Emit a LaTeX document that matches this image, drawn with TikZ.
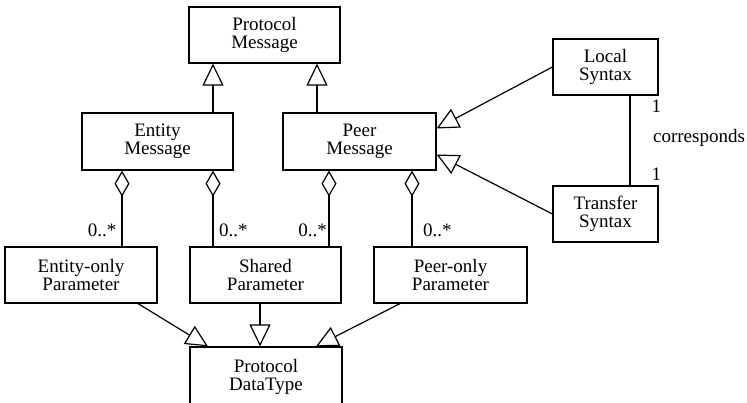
\documentclass[tikz,border=0pt]{standalone}
\usepackage{fontspec}
\setmainfont{Liberation Serif}
\newfontfamily\umlfont{Liberation Serif}
\usetikzlibrary{arrows.meta}

\begin{document}
\begin{tikzpicture}[x=1pt,y=-1pt,
  line width=1.2pt,
  cls/.style={draw, line width=1.2pt, align=center, inner sep=0pt,
    font=\umlfont\fontsize{19}{17.5}\selectfont},
  txt/.style={inner sep=0pt, font=\umlfont\fontsize{19}{17.5}\selectfont},
  inh/.style={-{Triangle[open,length=22pt,width=21pt,line width=1.2pt]}},
  agg/.style={-{Diamond[open,length=26pt,width=15pt,line width=1.2pt]}},
  assoc/.style={-}]
\useasboundingbox (0,0) rectangle (747,402);

% classes
\node[cls, minimum width=151pt, minimum height=56pt] (pm)   at (264.5,35)   {Protocol\\Message};
\node[cls, minimum width=151pt, minimum height=57pt] (em)   at (157.5,141.5) {Entity\\Message};
\node[cls, minimum width=153pt, minimum height=57pt] (peer) at (359.5,141.5) {Peer\\Message};
\node[cls, minimum width=105pt, minimum height=56pt] (ls)   at (605.5,67)   {Local\\Syntax};
\node[cls, minimum width=105pt, minimum height=56pt] (ts)   at (605.5,214)  {Transfer\\Syntax};
\node[cls, minimum width=152pt, minimum height=56pt] (eo)   at (81,275)     {Entity-only\\Parameter};
\node[cls, minimum width=151pt, minimum height=56pt] (sp)   at (265.5,275)  {Shared\\Parameter};
\node[cls, minimum width=153pt, minimum height=56pt] (po)   at (450.5,275)  {Peer-only\\Parameter};
\node[cls, minimum width=152pt, minimum height=60pt] (dt)   at (266,377)    {Protocol\\DataType};

% generalisations
\draw[inh] ([xshift=55.5pt]em.north) -- ([xshift=55.5pt]em.north |- pm.south);
\draw[inh] ([xshift=-42.5pt]peer.north) -- ([xshift=-42.5pt]peer.north |- pm.south);
\draw[inh] (ls.west) -- ([yshift=13pt]peer.east);
\draw[inh] (ts.west) -- ([yshift=-13pt]peer.east);
\draw[inh] ([xshift=57pt]eo.south) -- ([xshift=-58pt]dt.north);
\draw[inh] ([xshift=-5.5pt]sp.south) -- ([xshift=-5.5pt]sp.south |- dt.north);
\draw[inh] ([xshift=-50.5pt]po.south) -- ([xshift=50pt]dt.north);

% aggregations
\draw[agg] ([xshift=41pt]eo.north) -- ([xshift=41pt]eo.north |- em.south)
  node[txt, pos=0, anchor=base east, xshift=-5pt, yshift=10pt] {0..*};
\draw[agg] ([xshift=-52.5pt]sp.north) -- ([xshift=-52.5pt]sp.north |- em.south)
  node[txt, pos=0, anchor=base west, xshift=5.5pt, yshift=10pt] {0..*};
\draw[agg] ([xshift=63.5pt]sp.north) -- ([xshift=63.5pt]sp.north |- peer.south)
  node[txt, pos=0, anchor=base east, xshift=-1.5pt, yshift=10pt] {0..*};
\draw[agg] ([xshift=-38.5pt]po.north) -- ([xshift=-38.5pt]po.north |- peer.south)
  node[txt, pos=0, anchor=base west, xshift=10.5pt, yshift=10pt] {0..*};

% association between the syntaxes
\draw[assoc] ([xshift=24.5pt]ls.south) -- ([xshift=24.5pt]ls.south |- ts.north);
\node[txt, anchor=base west] (m1) at (651,112) {1};
\node[txt, anchor=base west] (rel) at (652.5,142) {corresponds};
\node[txt, anchor=base west] (m2) at (651,180) {1};
\end{tikzpicture}
\end{document}
